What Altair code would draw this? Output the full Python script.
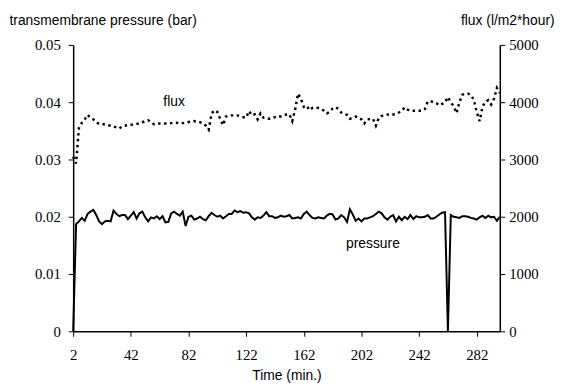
import altair as alt
import pandas as pd

# Time axis (minutes), one reading every 2 minutes
time_min = list(range(2, 300, 2))

pressure_bar = [
    0.0, 0.0187, 0.0192, 0.0198, 0.0193, 0.0205, 0.0209, 0.0212, 0.0203, 0.0192,
    0.0187, 0.0192, 0.0193, 0.0192, 0.0211, 0.0205, 0.0201, 0.0203, 0.0203, 0.0196,
    0.0202, 0.0208, 0.0197, 0.0206, 0.0209, 0.0199, 0.0192, 0.0199, 0.0197, 0.0201,
    0.0196, 0.0201, 0.0190, 0.0191, 0.0206, 0.0209, 0.0205, 0.0202, 0.0209, 0.0184,
    0.0200, 0.0202, 0.0195, 0.0197, 0.0200, 0.0196, 0.0194, 0.0201, 0.0207, 0.0203,
    0.0200, 0.0202, 0.0197, 0.0201, 0.0205, 0.0205, 0.0211, 0.0208, 0.0210, 0.0207,
    0.0208, 0.0206, 0.0199, 0.0195, 0.0199, 0.0198, 0.0202, 0.0208, 0.0201, 0.0201,
    0.0198, 0.0199, 0.0202, 0.0200, 0.0201, 0.0203, 0.0197, 0.0198, 0.0199, 0.0197,
    0.0205, 0.0209, 0.0203, 0.0198, 0.0197, 0.0199, 0.0198, 0.0197, 0.0202, 0.0205,
    0.0204, 0.0195, 0.0197, 0.0203, 0.0199, 0.0191, 0.0213, 0.0204, 0.0193, 0.0197,
    0.0192, 0.0197, 0.0197, 0.0199, 0.0201, 0.0205, 0.0209, 0.0206, 0.0199, 0.0195,
    0.0200, 0.0203, 0.0192, 0.0200, 0.0194, 0.0200, 0.0196, 0.0203, 0.0196, 0.0201,
    0.0199, 0.0199, 0.0200, 0.0203, 0.0197, 0.0197, 0.0200, 0.0204, 0.0207, 0.0208,
    0.0, 0.0203, 0.0200, 0.0199, 0.0198, 0.0201, 0.0201, 0.0200, 0.0198, 0.0197,
    0.0195, 0.0199, 0.0202, 0.0198, 0.0202, 0.0199, 0.0200, 0.0193, 0.0200,
]

flux_lmh = [
    3050, 2930, 3550, 3640, 3700, 3780, 3730, 3700, 3650, 3620,
    3620, 3610, 3600, 3590, 3575, 3560, 3540, 3580, 3590, 3600,
    3605, 3610, 3620, 3630, 3650, 3670, 3685, 3650, 3615, 3620,
    3630, 3630, 3630, 3630, 3635, 3640, 3640, 3630, 3635, 3645,
    3655, 3665, 3670, 3660, 3650, 3635, 3590, 3520, 3800, 3860,
    3830, 3710, 3600, 3750, 3760, 3770, 3770, 3770, 3750, 3740,
    3730, 3845, 3770, 3790, 3700, 3805, 3730, 3720, 3710, 3725,
    3740, 3760, 3750, 3770, 3785, 3790, 3670, 3870, 4150, 4060,
    3920, 3940, 3860, 3900, 3910, 3900, 3880, 3850, 3805, 3830,
    3890, 3915, 3885, 3820, 3795, 3780, 3710, 3730, 3750, 3735,
    3700, 3630, 3700, 3705, 3710, 3590, 3720, 3760, 3780, 3785,
    3775, 3785, 3795, 3820, 3850, 3910, 3870, 3855, 3850, 3850,
    3850, 3850, 3880, 4010, 4020, 4000, 3985, 3945, 3970, 3995,
    4090, 4000, 3930, 3810, 4000, 4130, 4150, 4150, 4125, 4040,
    3830, 3670, 3920, 4010, 4035, 3960, 4060, 4250, 4160,
]

x_ticks = [2, 42, 82, 122, 162, 202, 242, 282]
pressure_ticks = [0, 0.01, 0.02, 0.03, 0.04, 0.05]
flux_ticks = [0, 1000, 2000, 3000, 4000, 5000]

df = pd.DataFrame({"time": time_min, "pressure": pressure_bar, "flux": flux_lmh})
flux_label = pd.DataFrame({"time": [72], "flux": [4000], "label": ["flux"]})
pressure_label = pd.DataFrame({"time": [210], "pressure": [0.0152], "label": ["pressure"]})

SERIF = "Liberation Serif"
SANS = "Liberation Sans"


def x_enc():
    return alt.X(
        "time:Q",
        scale=alt.Scale(domain=[2, 298], nice=False, zero=False),
        axis=alt.Axis(
            values=x_ticks, title="Time (min.)",
            tickSize=5, labelPadding=12, titlePadding=6, labelFlush=False,
        ),
    )


def y_pressure():
    return alt.Y(
        "pressure:Q",
        scale=alt.Scale(domain=[0, 0.05], nice=False),
        axis=alt.Axis(
            values=pressure_ticks, orient="left",
            labelExpr="datum.value == 0 ? '0' : format(datum.value, '.2f')",
            tickSize=5, labelPadding=8,
            title="transmembrane pressure (bar)", titleAngle=0, titleAlign="left",
            titleBaseline="middle", titleX=-65, titleY=-25,
        ),
    )


def y_flux():
    return alt.Y(
        "flux:Q",
        scale=alt.Scale(domain=[0, 5000], nice=False),
        axis=alt.Axis(
            values=flux_ticks, orient="right", format="d",
            tickSize=5, labelPadding=4,
            title="flux (l/m2*hour)", titleAngle=0, titleAlign="right",
            titleBaseline="middle", titleX=55, titleY=-25,
        ),
    )


pressure_line = alt.Chart(df).mark_line(color="black", strokeWidth=2).encode(
    x=x_enc(), y=y_pressure()
)
pressure_text = alt.Chart(pressure_label).mark_text(
    font=SANS, fontSize=14, color="black"
).encode(x=x_enc(), y=y_pressure(), text="label:N")

flux_line = alt.Chart(df).mark_line(
    color="black", strokeWidth=2.5, strokeDash=[2.5, 3.5]
).encode(x=x_enc(), y=y_flux())
flux_text = alt.Chart(flux_label).mark_text(
    font=SANS, fontSize=14, color="black"
).encode(x=x_enc(), y=y_flux(), text="label:N")

chart = (
    alt.layer(
        alt.layer(pressure_line, pressure_text),
        alt.layer(flux_line, flux_text),
    )
    .resolve_scale(y="independent")
    .properties(
        width=432, height=290,
        autosize=alt.AutoSizeParams(type="none"),
        padding={"left": 66, "top": 35, "right": 64, "bottom": 56},
        background="white",
    )
    .configure(font=SANS)
    .configure_view(stroke=None)
    .configure_axis(
        grid=False, domainColor="black", tickColor="black", labelColor="black",
        titleColor="black", domainWidth=1.5, tickWidth=1,
        labelFont=SERIF, labelFontSize=15, titleFont=SANS, titleFontSize=14,
        titleFontWeight="normal",
    )
)

chart.save("out.html", embed_options={"renderer": "svg", "actions": False})
